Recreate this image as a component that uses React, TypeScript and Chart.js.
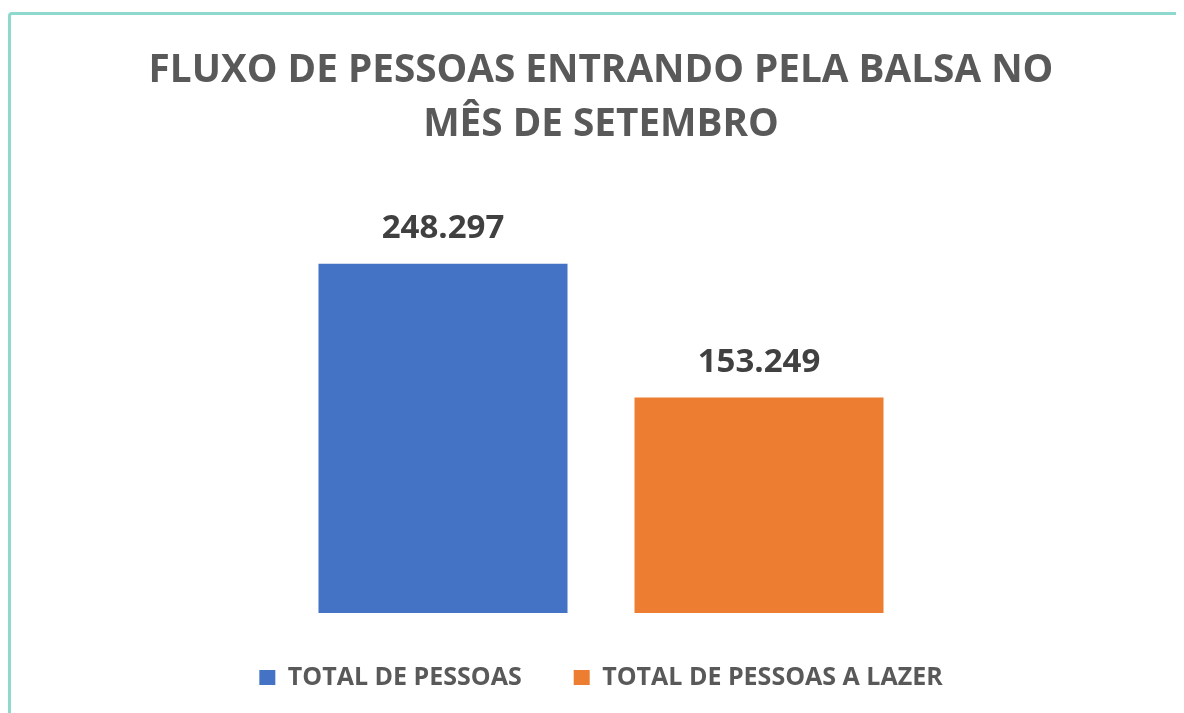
import React, { useEffect, useRef } from "react";
import { Chart, registerables } from "chart.js";

Chart.register(...registerables);

const categories = ["Setembro"];
const seriesNames = ["TOTAL DE PESSOAS", "TOTAL DE PESSOAS A LAZER"];
const totalPessoas = [248297];
const totalLazer = [153249];
const seriesColors = ["#4472C4", "#ED7D31"];
const titleLines = ["FLUXO DE PESSOAS ENTRANDO PELA BALSA NO", "MÊS DE SETEMBRO"];
const yMax = 300000;

function formatBR(v: number): string {
  const s = Math.round(v).toString();
  return s.replace(/\B(?=(\d{3})+(?!\d))/g, ".");
}

const dataLabelPlugin = {
  id: "dataLabels",
  afterDatasetsDraw(chart: any) {
    const ctx = chart.ctx;
    ctx.save();
    ctx.font = "bold 33px 'Open Sans'";
    ctx.fillStyle = "#404040";
    ctx.textAlign = "center";
    ctx.textBaseline = "middle";
    chart.data.datasets.forEach((ds: any, i: number) => {
      const meta = chart.getDatasetMeta(i);
      meta.data.forEach((el: any, j: number) => {
        ctx.fillText(formatBR(ds.data[j]), el.x, el.y - 35);
      });
    });
    ctx.restore();
  },
};

export default function App() {
  const canvasRef = useRef<HTMLCanvasElement | null>(null);

  useEffect(() => {
    if (!canvasRef.current) return;
    const chart = new Chart(canvasRef.current, {
      type: "bar",
      data: {
        labels: categories,
        datasets: [
          {
            label: seriesNames[0],
            data: totalPessoas,
            backgroundColor: seriesColors[0],
            categoryPercentage: 0.5515,
            barPercentage: 0.788,
          },
          {
            label: seriesNames[1],
            data: totalLazer,
            backgroundColor: seriesColors[1],
            categoryPercentage: 0.5515,
            barPercentage: 0.788,
          },
        ],
      },
      options: {
        animation: false,
        responsive: false,
        devicePixelRatio: 1,
        layout: { padding: { left: 20, right: 10, top: 0, bottom: 13 } },
        scales: {
          x: { display: false },
          y: { display: false, min: 0, max: yMax },
        },
        plugins: {
          tooltip: { enabled: false },
          title: {
            display: true,
            text: titleLines,
            color: "#595959",
            font: { family: "'Open Sans'", size: 38.7, weight: "bold", lineHeight: 1.42 },
            padding: { top: 35, bottom: 38 },
          },
          legend: {
            display: true,
            position: "bottom",
            labels: {
              color: "#595959",
              font: { family: "'Open Sans'", size: 25, weight: "bold" },
              boxWidth: 16,
              boxHeight: 15,
              padding: 52,
            },
          },
        },
      },
      plugins: [dataLabelPlugin],
    });
    return () => chart.destroy();
  }, []);

  return (
    <div style={{ position: "relative", width: 1176, height: 705, overflow: "hidden", background: "#fff" }}>
      <canvas
        ref={canvasRef}
        width={1176}
        height={705}
        style={{ position: "absolute", left: 0, top: 0, width: 1176, height: 705 }}
      />
      <div
        style={{
          position: "absolute",
          left: 0,
          top: 4,
          width: 1200,
          height: 720,
          borderLeft: "3px solid #8ED8CD",
          borderTop: "3px solid #8ED8CD",
          borderTopLeftRadius: 4,
          pointerEvents: "none",
        }}
      />
    </div>
  );
}
